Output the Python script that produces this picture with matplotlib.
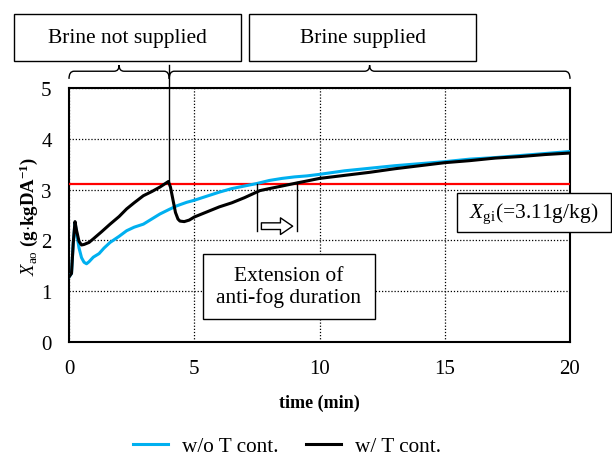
import matplotlib
matplotlib.use("Agg")
import matplotlib.pyplot as plt
from matplotlib.patches import Rectangle, FancyArrowPatch, PathPatch
from matplotlib.path import Path
from matplotlib.lines import Line2D

plt.rcParams['font.family'] = ['Liberation Serif', 'DejaVu Serif']
plt.rcParams['mathtext.fontset'] = 'custom'
plt.rcParams['mathtext.rm'] = 'Liberation Serif'
plt.rcParams['mathtext.it'] = 'Liberation Serif:italic'
plt.rcParams['mathtext.bf'] = 'Liberation Serif:bold'

# ---- data ----
t_blue = [0, 0.1, 0.17, 0.24, 0.3, 0.4, 0.5, 0.6, 0.7, 0.8, 0.97, 1.2, 1.4, 1.64, 2.0, 2.3, 2.6, 2.97,
          3.3, 3.63, 4.0, 4.3, 4.7, 5.0, 5.5, 6.0, 6.5, 7.0, 7.5, 8.0, 8.5, 9.0, 9.5, 10, 11, 12, 13,
          14, 15, 16, 17, 18, 19, 20]
x_blue = [1.28, 1.35, 1.95, 2.35, 2.15, 1.85, 1.66, 1.57, 1.54, 1.58, 1.67, 1.74, 1.85, 1.96, 2.08, 2.19,
          2.26, 2.32, 2.42, 2.52, 2.61, 2.68, 2.75, 2.79, 2.87, 2.95, 3.02, 3.07, 3.12, 3.18, 3.22, 3.25,
          3.27, 3.3, 3.37, 3.42, 3.47, 3.51, 3.55, 3.6, 3.63, 3.67, 3.71, 3.75]

t_black = [0, 0.1, 0.17, 0.24, 0.3, 0.4, 0.5, 0.6, 0.8, 0.97, 1.3, 1.64, 2.0, 2.3, 2.6, 2.97, 3.3, 3.63,
           3.97, 4.05, 4.15, 4.25, 4.35, 4.43, 4.6, 4.8, 5.0, 5.5, 6.0, 6.5, 7.0, 7.62, 8.0, 8.5, 9.09,
           9.5, 10, 11, 12, 13, 14, 15, 16, 17, 18, 19, 20]
x_black = [1.28, 1.35, 1.95, 2.37, 2.2, 1.98, 1.91, 1.92, 1.96, 2.03, 2.17, 2.32, 2.47, 2.62, 2.74, 2.88,
           2.96, 3.05, 3.16, 3.05, 2.8, 2.55, 2.42, 2.38, 2.37, 2.4, 2.46, 2.56, 2.66, 2.74, 2.84, 2.98,
           3.02, 3.07, 3.13, 3.17, 3.22, 3.28, 3.34, 3.41, 3.47, 3.53, 3.57, 3.62, 3.65, 3.69, 3.72]

x_gi = 3.11
ext_start, ext_end = 7.52, 9.09
brine_switch = 4.0

xticks = [0, 5, 10, 15, 20]
yticks = [0, 1, 2, 3, 4, 5]

BLUE = '#00B0F0'

fig = plt.figure(figsize=(6.12, 4.6), dpi=100)
ax = fig.add_axes([69/612, 1 - 343/460, (570-69)/612, (343-89)/460])
ax.set_xlim(0, 20)
ax.set_ylim(0, 5)
ax.set_xticks(xticks)
ax.set_yticks(yticks)
ax.tick_params(length=0, labelsize=15, pad=12.5)
ax.grid(True, color='black', linestyle=(0, (1, 1.5)), linewidth=0.9)
for s in ax.spines.values():
    s.set_linewidth(1.5)
    s.set_color('black')

ax.axhline(x_gi, color='#FF0000', linewidth=1.6, zorder=3)
ax.plot(t_blue, x_blue, color=BLUE, linewidth=2.2, zorder=4, label='w/o T cont.')
ax.plot(t_black, x_black, color='black', linewidth=2.2, zorder=5, label='w/ T cont.')

# vertical marker for brine switch
ax.plot([brine_switch, brine_switch], [3.16, 5.45], color='black', linewidth=1.0, clip_on=False, zorder=6)

# extension marker
for xv, ytop in [(ext_start, 3.12), (ext_end, 3.15)]:
    ax.plot([xv, xv], [2.18, ytop], color='black', linewidth=1.0, zorder=6)
arr = FancyArrowPatch((ext_start + 0.05, 2.28), (ext_end - 0.05, 2.28),
                      arrowstyle='simple,head_width=0.75,head_length=0.55,tail_width=0.3',
                      mutation_scale=16, facecolor='white', edgecolor='black', linewidth=1.0, zorder=6)
ax.add_patch(arr)

ax.set_xlabel('time (min)', fontsize=13, fontweight='bold', labelpad=11)
ax.set_ylabel(r'$\mathit{X}_{\mathrm{ao}}$ (g$\cdot$kgDA$^{\mathbf{-1}}$)', fontsize=13.5,
              fontweight='bold', labelpad=1)

# braces
def brace(x0, x1, xtip, yb, yend, ytip, dx):
    verts = [(x0, yend), (x0, yb), (x0 + dx, yb),
             (xtip - dx, yb),
             (xtip, yb), (xtip, ytip),
             (xtip, yb), (xtip + dx, yb),
             (x1 - dx, yb),
             (x1, yb), (x1, yend)]
    codes = [Path.MOVETO, Path.CURVE3, Path.CURVE3,
             Path.LINETO,
             Path.CURVE3, Path.CURVE3,
             Path.CURVE3, Path.CURVE3,
             Path.LINETO,
             Path.CURVE3, Path.CURVE3]
    p = PathPatch(Path(verts, codes), facecolor='none', edgecolor='black', linewidth=1.0,
                  clip_on=False, zorder=6)
    ax.add_patch(p)

brace(0.0, 4.0, 2.0, 5.33, 5.18, 5.45, 0.2)
brace(4.0, 20.0, 12.0, 5.33, 5.18, 5.45, 0.2)

# top boxes (figure coords)
def fbox(x0, y0, x1, y1, text, fs):
    fig.add_artist(Rectangle((x0/612, 1 - y1/460), (x1-x0)/612, (y1-y0)/460,
                             transform=fig.transFigure, facecolor='white', edgecolor='black',
                             linewidth=1.0))
    fig.text((x0+x1)/2/612, 1 - (y0+y1)/2/460, text, ha='center', va='center', fontsize=fs,
             linespacing=1.2)

fbox(14, 15, 241, 62, 'Brine not supplied', 15.5)
fbox(249, 15, 476, 62, 'Brine supplied', 15.5)
fbox(203, 255, 375, 320, 'Extension of\nanti-fog duration', 15.5)
fbox(457, 194, 611, 233, r'$\mathit{X}_{\mathrm{gi}}$(=3.11g/kg)', 15.5)

handles = [Line2D([], [], color=BLUE, linewidth=2.2), Line2D([], [], color='black', linewidth=2.2)]
fig.legend(handles, ['w/o T cont.', 'w/ T cont.'], loc='center', bbox_to_anchor=(287/612, 1 - 447/460),
           ncol=2, frameon=False, fontsize=15.3, handlelength=1.65, handletextpad=0.66, columnspacing=1.3,
           borderpad=0.2)

fig.savefig('out.png', dpi=100)
